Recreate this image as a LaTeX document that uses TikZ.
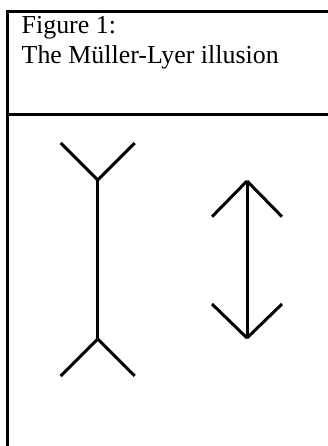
\documentclass[tikz,border=0pt]{standalone}
\usepackage{fontspec}
\setmainfont{Liberation Serif}
\usepackage{tikz}

\tikzset{
  frame/.style={line width=2.7pt},
  fin/.style={line width=3pt},
  caption/.style={inner sep=0pt, font=\fontsize{25.9}{30}\selectfont}
}

\begin{document}
\begin{tikzpicture}[x=1pt, y=-1pt]
\useasboundingbox (0,0) rectangle (328,446);
% table frame
\draw[frame] (328,11.3) -- (7.5,11.3) -- (7.5,446);
\draw[frame] (7.5,114.5) -- (328,114.5);
% caption
\node[caption, anchor=base west] (figlabel) at (21.5,33.3) {Figure 1:};
\node[caption, anchor=base west] (figtitle) at (21.5,63.3) {The Müller-Lyer illusion};
% left figure: fins pointing outwards
\draw[fin] (97.7,180) -- (97.7,339);
\foreach \s in {-1,1} {
    \draw[fin] (97.7,180) -- ++(\s*37,-37);
    \draw[fin] (97.7,339) -- ++(\s*37,37);
}
% right figure: arrowheads pointing outwards
\draw[fin] (247,181) -- (247,338);
\foreach \s in {-1,1} {
    \draw[fin] (247,181) -- ++(\s*35,35.7);
    \draw[fin] (247,338) -- ++(\s*35,-34);
}
\end{tikzpicture}
\end{document}
